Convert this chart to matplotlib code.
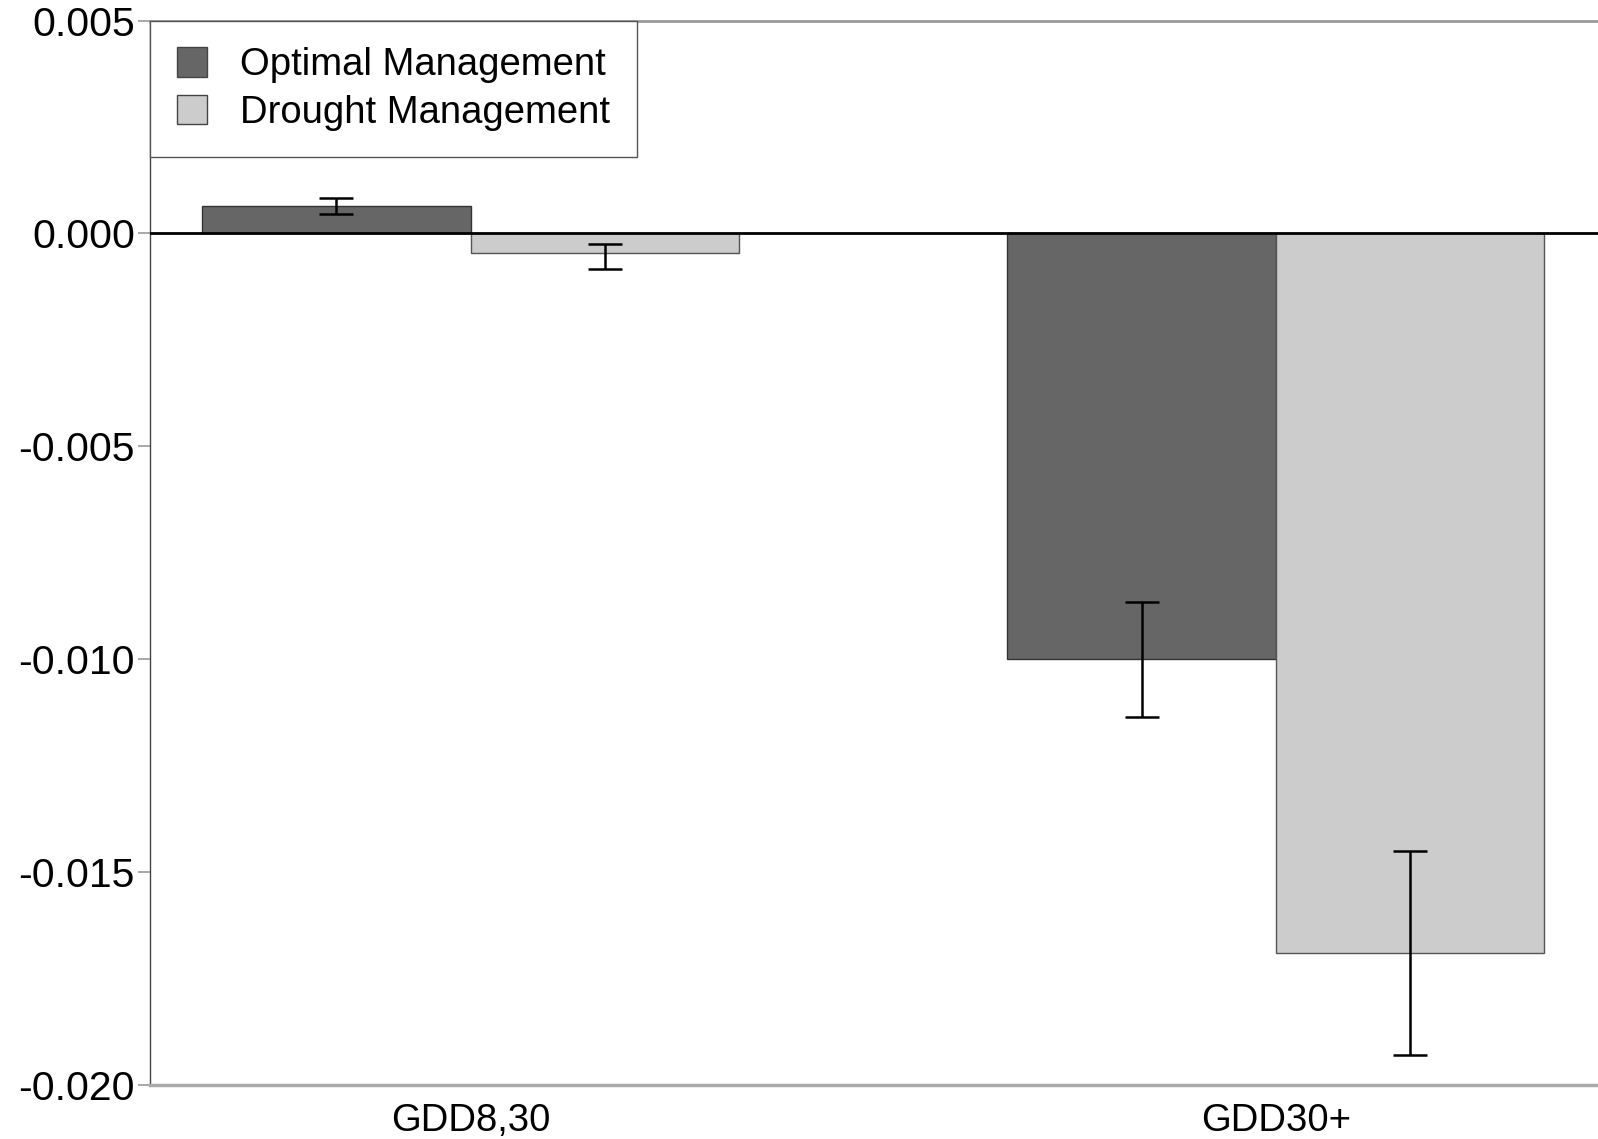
import matplotlib

matplotlib.use("Agg")
import matplotlib.pyplot as plt
import numpy as np
from matplotlib.patches import Patch

plt.rcParams["font.family"] = ["Liberation Sans", "DejaVu Sans"]

categories = ["GDD8,30", "GDD30+"]
series = ["Optimal Management", "Drought Management"]
optimal = [0.00065, -0.0100]
drought = [-0.00047, -0.0169]
optimal_err = [0.00019, 0.00135]
drought_err_low = [0.00037, 0.0024]
drought_err_high = [0.00023, 0.0024]
yticks = [0.005, 0.000, -0.005, -0.010, -0.015, -0.020]
colors = ["#666666", "#cccccc"]

fig = plt.figure(figsize=(15.98, 11.39), dpi=100)
ax = fig.add_axes([0.0939, 0.0474, 0.9061, 0.9346])

x = np.arange(len(categories))
width = 1 / 3
err_style = dict(ecolor="black", elinewidth=1.8, capsize=12, capthick=1.8)
ax.bar(x - width / 2, optimal, width, color=colors[0], edgecolor="#333333",
       linewidth=1.0, yerr=optimal_err, error_kw=err_style, zorder=2)
ax.bar(x + width / 2, drought, width, color=colors[1], edgecolor="#555555",
       linewidth=1.0, yerr=[drought_err_low, drought_err_high],
       error_kw=err_style, zorder=2)
ax.axhline(0, color="black", linewidth=2.0, zorder=3)

ax.set_xlim(-0.398, 1.4)
ax.set_ylim(-0.020, 0.005)
ax.set_yticks(yticks)
ax.set_yticklabels([f"{v:.3f}" for v in yticks])
ax.set_xticks(x)
ax.set_xticklabels(categories)
ax.tick_params(axis="y", length=9, width=1.2, color="#999999", labelsize=29.5, pad=2)
ax.tick_params(axis="x", length=0, labelsize=27.5, pad=13)

ax.spines["right"].set_visible(False)
ax.spines["left"].set_color("#444444")
ax.spines["left"].set_linewidth(1.0)
ax.spines["top"].set_color("#999999")
ax.spines["top"].set_linewidth(2.0)
ax.spines["bottom"].set_color("#aaaaaa")
ax.spines["bottom"].set_linewidth(2.5)

handles = [Patch(facecolor=c, edgecolor="#444444", linewidth=1.0) for c in colors]
leg = ax.legend(handles, series, loc="upper left", bbox_to_anchor=(0, 1),
                borderaxespad=0, fancybox=False, framealpha=1, edgecolor="#555555",
                fontsize=27.5, handlelength=0.8, handleheight=0.8,
                handletextpad=0.85, borderpad=0.7, labelspacing=0.3)
leg.get_frame().set_linewidth(1.0)

fig.savefig("out.png", dpi=100)
